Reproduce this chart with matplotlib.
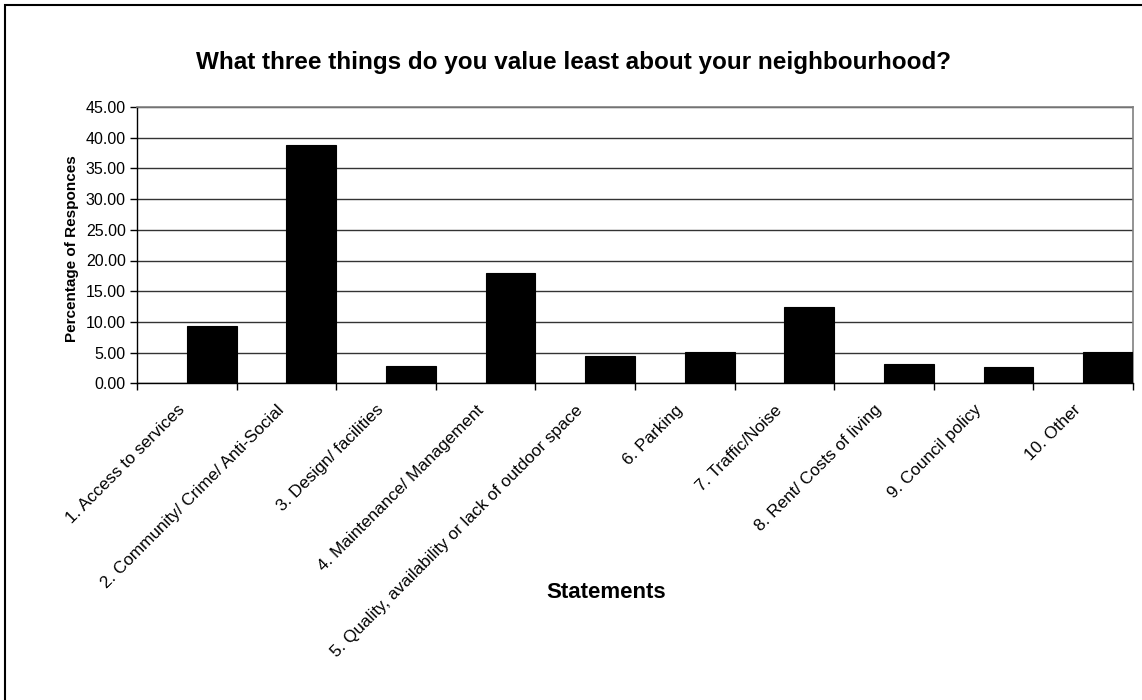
import matplotlib
matplotlib.use("Agg")
import matplotlib.pyplot as plt
import matplotlib.patches as mpatches
from matplotlib.transforms import ScaledTranslation
import numpy as np

plt.rcParams['font.family'] = ['Liberation Sans', 'DejaVu Sans']

# data
statements = [
    "1. Access to services",
    "2. Community/ Crime/ Anti-Social",
    "3. Design/ facilities",
    "4. Maintenance/ Management",
    "5. Quality, availability or lack of outdoor space",
    "6. Parking",
    "7. Traffic/Noise",
    "8. Rent/ Costs of living",
    "9. Council policy",
    "10. Other",
]
percentages = [9.4, 38.85, 2.75, 17.9, 4.5, 5.15, 12.45, 3.2, 2.65, 5.15]
y_ticks = [0, 5, 10, 15, 20, 25, 30, 35, 40, 45]

W, H = 1142, 700
fig = plt.figure(figsize=(W / 100, H / 100), dpi=100)
ax = fig.add_axes([137 / W, 1 - 383.3 / H, (1133 - 137) / W, (383.3 - 107) / H])

n = len(statements)
idx = np.arange(n)
# bars sit in the right half of each category slot
ax.bar(idx + 0.5, percentages, width=0.5, align='edge', color='black',
       edgecolor='black', linewidth=0.8, zorder=3)

ax.set_xlim(0, n)
ax.set_ylim(0, 45)
ax.set_yticks(y_ticks)
ax.set_yticklabels([f"{v:.2f}" for v in y_ticks], fontsize=11.5)
ax.yaxis.grid(True, color='#333333', linewidth=1.0, zorder=0)
ax.set_axisbelow(True)

# ticks at the category boundaries, labels at the centres
ax.set_xticks(np.arange(n + 1))
ax.set_xticklabels([])
ax.set_xticks(idx + 0.5, minor=True)
ax.set_xticklabels(statements, minor=True, rotation=45, ha='right',
                   rotation_mode='anchor', fontsize=12.3)
ax.tick_params(axis='x', which='minor', length=0, pad=8)
ax.tick_params(axis='x', which='major', length=5, direction='out', width=1)
ax.tick_params(axis='y', length=5, direction='out', width=1, pad=3)

shift = ScaledTranslation(-10 / 100, -8 / 100, fig.dpi_scale_trans)
for lab in ax.get_xticklabels(minor=True):
    lab.set_transform(lab.get_transform() + shift)

for side in ['left', 'bottom']:
    ax.spines[side].set_color('black')
    ax.spines[side].set_linewidth(1.0)
for side in ['top', 'right']:
    ax.spines[side].set_color('#808080')
    ax.spines[side].set_linewidth(1.2)

fig.text(574 / W, 1 - 62 / H, "What three things do you value least about your neighbourhood?",
         ha='center', va='center', fontsize=17.5, fontweight='bold')
fig.text(72 / W, 1 - 249 / H, "Percentage of Responces", rotation=90,
         ha='center', va='center', fontsize=11, fontweight='bold')
fig.text(606 / W, 1 - 592 / H, "Statements", ha='center', va='center',
         fontsize=16, fontweight='bold')

# outer chart border (runs off the right and bottom edges)
border = mpatches.Rectangle((5 / W, -0.1), 1.2, 1.1 - 5.5 / H, transform=fig.transFigure,
                            fill=False, edgecolor='black', linewidth=1.5, clip_on=False)
fig.patches.append(border)

fig.savefig("out.png", dpi=100)
